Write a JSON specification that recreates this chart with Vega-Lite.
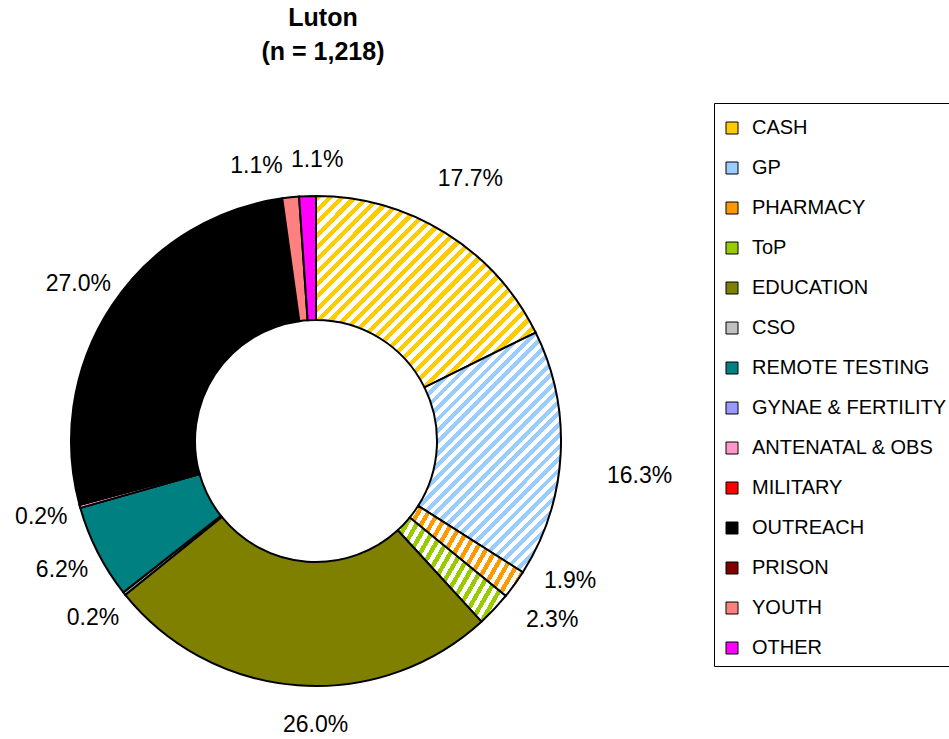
{
"$schema":"https://vega.github.io/schema/vega-lite/v6.json",
"width":632,"height":596,
"autosize":{"type":"none"},
"padding":{"left":0,"top":143,"right":317,"bottom":0},
"background":"white",
"config":{"view":{"stroke":null}},
"title":{"text":["Luton","(n = 1,218)"],"fontSize":25,"font":"Liberation Sans","fontWeight":"bold","color":"black","lineHeight":34,"offset":38,"anchor":"middle","dx":7},
"data":{"values":[
{"cat":"CASH","pct":17.7,"ord":1},
{"cat":"GP","pct":16.3,"ord":2},
{"cat":"PHARMACY","pct":1.9,"ord":3},
{"cat":"ToP","pct":2.3,"ord":4},
{"cat":"EDUCATION","pct":26.0,"ord":5},
{"cat":"CSO","pct":0.2,"ord":6},
{"cat":"REMOTE TESTING","pct":6.2,"ord":7},
{"cat":"GYNAE & FERTILITY","pct":0,"ord":8},
{"cat":"ANTENATAL & OBS","pct":0.2,"ord":9},
{"cat":"MILITARY","pct":0,"ord":10},
{"cat":"OUTREACH","pct":27.0,"ord":11},
{"cat":"PRISON","pct":0,"ord":12},
{"cat":"YOUTH","pct":1.1,"ord":13},
{"cat":"OTHER","pct":1.1,"ord":14}
]},
"transform":[
{"window":[{"op":"sum","field":"pct","as":"cum"}],"sort":[{"field":"ord"}],"frame":[null,0]},
{"calculate":"datum.cum - datum.pct/2","as":"mid"},
{"calculate":"format(datum.pct,'.1f') + '%'","as":"label"}
],
"layer":[
{"mark":{"type":"arc","outerRadius":245,"innerRadius":121,"stroke":"black","strokeWidth":2},
"encoding":{
"theta":{"field":"pct","type":"quantitative","stack":true,"scale":{"domain":[0,100]}},
"order":{"field":"ord","type":"quantitative"},
"color":{"field":"cat","type":"nominal",
"scale":{"domain":["CASH","GP","PHARMACY","ToP","EDUCATION","CSO","REMOTE TESTING","GYNAE & FERTILITY","ANTENATAL & OBS","MILITARY","OUTREACH","PRISON","YOUTH","OTHER"],
"range":["#FFCC00","#99CCFF","#FF9900","#99CC00","#808000","#C0C0C0","#008080","#9999FF","#FF99CC","#FF0000","#000000","#800000","#FF8080","#FF00FF"]},
"legend":{"orient":"none","legendX":714,"legendY":-40,"title":" ","titleFontSize":1,"titlePadding":6,"labelFont":"Liberation Sans","labelFontSize":20,"labelColor":"black","symbolType":"square","symbolSize":144,"symbolStrokeColor":"black","symbolStrokeWidth":1,"rowPadding":20,"padding":8,"strokeColor":"black","fillColor":"white","labelOffset":10,"labelLimit":400},
"condition":[
{"test":"datum.cat==='CASH'","value":{"gradient":"linear","x1":0,"y1":0,"x2":1.065,"y2":0.925,"stops":[
{"offset":0,"color":"#fc0"},
{"offset":0.015,"color":"#fc0"},{"offset":0.015,"color":"#fff"},{"offset":0.03,"color":"#fff"},{"offset":0.03,"color":"#fc0"},
{"offset":0.045,"color":"#fc0"},{"offset":0.045,"color":"#fff"},{"offset":0.06,"color":"#fff"},{"offset":0.06,"color":"#fc0"},
{"offset":0.075,"color":"#fc0"},{"offset":0.075,"color":"#fff"},{"offset":0.09,"color":"#fff"},{"offset":0.09,"color":"#fc0"},
{"offset":0.105,"color":"#fc0"},{"offset":0.105,"color":"#fff"},{"offset":0.12,"color":"#fff"},{"offset":0.12,"color":"#fc0"},
{"offset":0.135,"color":"#fc0"},{"offset":0.135,"color":"#fff"},{"offset":0.15,"color":"#fff"},{"offset":0.15,"color":"#fc0"},
{"offset":0.165,"color":"#fc0"},{"offset":0.165,"color":"#fff"},{"offset":0.18,"color":"#fff"},{"offset":0.18,"color":"#fc0"},
{"offset":0.195,"color":"#fc0"},{"offset":0.195,"color":"#fff"},{"offset":0.21,"color":"#fff"},{"offset":0.21,"color":"#fc0"},
{"offset":0.225,"color":"#fc0"},{"offset":0.225,"color":"#fff"},{"offset":0.24,"color":"#fff"},{"offset":0.24,"color":"#fc0"},
{"offset":0.255,"color":"#fc0"},{"offset":0.255,"color":"#fff"},{"offset":0.27,"color":"#fff"},{"offset":0.27,"color":"#fc0"},
{"offset":0.285,"color":"#fc0"},{"offset":0.285,"color":"#fff"},{"offset":0.3,"color":"#fff"},{"offset":0.3,"color":"#fc0"},
{"offset":0.315,"color":"#fc0"},{"offset":0.315,"color":"#fff"},{"offset":0.33,"color":"#fff"},{"offset":0.33,"color":"#fc0"},
{"offset":0.345,"color":"#fc0"},{"offset":0.345,"color":"#fff"},{"offset":0.36,"color":"#fff"},{"offset":0.36,"color":"#fc0"},
{"offset":0.375,"color":"#fc0"},{"offset":0.375,"color":"#fff"},{"offset":0.39,"color":"#fff"},{"offset":0.39,"color":"#fc0"},
{"offset":0.405,"color":"#fc0"},{"offset":0.405,"color":"#fff"},{"offset":0.42,"color":"#fff"},{"offset":0.42,"color":"#fc0"},
{"offset":0.435,"color":"#fc0"},{"offset":0.435,"color":"#fff"},{"offset":0.45,"color":"#fff"},{"offset":0.45,"color":"#fc0"},
{"offset":0.465,"color":"#fc0"},{"offset":0.465,"color":"#fff"},{"offset":0.48,"color":"#fff"},{"offset":0.48,"color":"#fc0"},
{"offset":0.495,"color":"#fc0"},{"offset":0.495,"color":"#fff"},{"offset":0.51,"color":"#fff"},{"offset":0.51,"color":"#fc0"},
{"offset":0.525,"color":"#fc0"},{"offset":0.525,"color":"#fff"},{"offset":0.54,"color":"#fff"},{"offset":0.54,"color":"#fc0"},
{"offset":0.555,"color":"#fc0"},{"offset":0.555,"color":"#fff"},{"offset":0.57,"color":"#fff"},{"offset":0.57,"color":"#fc0"},
{"offset":0.585,"color":"#fc0"},{"offset":0.585,"color":"#fff"},{"offset":0.6,"color":"#fff"},{"offset":0.6,"color":"#fc0"},
{"offset":0.615,"color":"#fc0"},{"offset":0.615,"color":"#fff"},{"offset":0.63,"color":"#fff"},{"offset":0.63,"color":"#fc0"},
{"offset":0.645,"color":"#fc0"},{"offset":0.645,"color":"#fff"},{"offset":0.66,"color":"#fff"},{"offset":0.66,"color":"#fc0"},
{"offset":0.675,"color":"#fc0"},{"offset":0.675,"color":"#fff"},{"offset":0.69,"color":"#fff"},{"offset":0.69,"color":"#fc0"},
{"offset":0.705,"color":"#fc0"},{"offset":0.705,"color":"#fff"},{"offset":0.72,"color":"#fff"},{"offset":0.72,"color":"#fc0"},
{"offset":0.735,"color":"#fc0"},{"offset":0.735,"color":"#fff"},{"offset":0.75,"color":"#fff"},{"offset":0.75,"color":"#fc0"},
{"offset":0.765,"color":"#fc0"},{"offset":0.765,"color":"#fff"},{"offset":0.78,"color":"#fff"},{"offset":0.78,"color":"#fc0"},
{"offset":0.795,"color":"#fc0"},{"offset":0.795,"color":"#fff"},{"offset":0.81,"color":"#fff"},{"offset":0.81,"color":"#fc0"},
{"offset":0.825,"color":"#fc0"},{"offset":0.825,"color":"#fff"},{"offset":0.84,"color":"#fff"},{"offset":0.84,"color":"#fc0"},
{"offset":0.855,"color":"#fc0"},{"offset":0.855,"color":"#fff"},{"offset":0.87,"color":"#fff"},{"offset":0.87,"color":"#fc0"},
{"offset":0.885,"color":"#fc0"},{"offset":0.885,"color":"#fff"},{"offset":0.9,"color":"#fff"},{"offset":0.9,"color":"#fc0"},
{"offset":0.915,"color":"#fc0"},{"offset":0.915,"color":"#fff"},{"offset":0.93,"color":"#fff"},{"offset":0.93,"color":"#fc0"},
{"offset":0.945,"color":"#fc0"},{"offset":0.945,"color":"#fff"},{"offset":0.96,"color":"#fff"},{"offset":0.96,"color":"#fc0"},
{"offset":0.975,"color":"#fc0"},{"offset":0.975,"color":"#fff"},{"offset":0.99,"color":"#fff"},{"offset":0.99,"color":"#fc0"},
{"offset":1,"color":"#fc0"}]}},
{"test":"datum.cat==='GP'","value":{"gradient":"linear","x1":0,"y1":0,"x2":0.702,"y2":1.178,"stops":[
{"offset":0,"color":"#9cf"},
{"offset":0.015,"color":"#9cf"},{"offset":0.015,"color":"#fff"},{"offset":0.03,"color":"#fff"},{"offset":0.03,"color":"#9cf"},
{"offset":0.045,"color":"#9cf"},{"offset":0.045,"color":"#fff"},{"offset":0.06,"color":"#fff"},{"offset":0.06,"color":"#9cf"},
{"offset":0.075,"color":"#9cf"},{"offset":0.075,"color":"#fff"},{"offset":0.09,"color":"#fff"},{"offset":0.09,"color":"#9cf"},
{"offset":0.105,"color":"#9cf"},{"offset":0.105,"color":"#fff"},{"offset":0.12,"color":"#fff"},{"offset":0.12,"color":"#9cf"},
{"offset":0.135,"color":"#9cf"},{"offset":0.135,"color":"#fff"},{"offset":0.15,"color":"#fff"},{"offset":0.15,"color":"#9cf"},
{"offset":0.165,"color":"#9cf"},{"offset":0.165,"color":"#fff"},{"offset":0.18,"color":"#fff"},{"offset":0.18,"color":"#9cf"},
{"offset":0.195,"color":"#9cf"},{"offset":0.195,"color":"#fff"},{"offset":0.21,"color":"#fff"},{"offset":0.21,"color":"#9cf"},
{"offset":0.225,"color":"#9cf"},{"offset":0.225,"color":"#fff"},{"offset":0.24,"color":"#fff"},{"offset":0.24,"color":"#9cf"},
{"offset":0.255,"color":"#9cf"},{"offset":0.255,"color":"#fff"},{"offset":0.27,"color":"#fff"},{"offset":0.27,"color":"#9cf"},
{"offset":0.285,"color":"#9cf"},{"offset":0.285,"color":"#fff"},{"offset":0.3,"color":"#fff"},{"offset":0.3,"color":"#9cf"},
{"offset":0.315,"color":"#9cf"},{"offset":0.315,"color":"#fff"},{"offset":0.33,"color":"#fff"},{"offset":0.33,"color":"#9cf"},
{"offset":0.345,"color":"#9cf"},{"offset":0.345,"color":"#fff"},{"offset":0.36,"color":"#fff"},{"offset":0.36,"color":"#9cf"},
{"offset":0.375,"color":"#9cf"},{"offset":0.375,"color":"#fff"},{"offset":0.39,"color":"#fff"},{"offset":0.39,"color":"#9cf"},
{"offset":0.405,"color":"#9cf"},{"offset":0.405,"color":"#fff"},{"offset":0.42,"color":"#fff"},{"offset":0.42,"color":"#9cf"},
{"offset":0.435,"color":"#9cf"},{"offset":0.435,"color":"#fff"},{"offset":0.45,"color":"#fff"},{"offset":0.45,"color":"#9cf"},
{"offset":0.465,"color":"#9cf"},{"offset":0.465,"color":"#fff"},{"offset":0.48,"color":"#fff"},{"offset":0.48,"color":"#9cf"},
{"offset":0.495,"color":"#9cf"},{"offset":0.495,"color":"#fff"},{"offset":0.51,"color":"#fff"},{"offset":0.51,"color":"#9cf"},
{"offset":0.525,"color":"#9cf"},{"offset":0.525,"color":"#fff"},{"offset":0.54,"color":"#fff"},{"offset":0.54,"color":"#9cf"},
{"offset":0.555,"color":"#9cf"},{"offset":0.555,"color":"#fff"},{"offset":0.57,"color":"#fff"},{"offset":0.57,"color":"#9cf"},
{"offset":0.585,"color":"#9cf"},{"offset":0.585,"color":"#fff"},{"offset":0.6,"color":"#fff"},{"offset":0.6,"color":"#9cf"},
{"offset":0.615,"color":"#9cf"},{"offset":0.615,"color":"#fff"},{"offset":0.63,"color":"#fff"},{"offset":0.63,"color":"#9cf"},
{"offset":0.645,"color":"#9cf"},{"offset":0.645,"color":"#fff"},{"offset":0.66,"color":"#fff"},{"offset":0.66,"color":"#9cf"},
{"offset":0.675,"color":"#9cf"},{"offset":0.675,"color":"#fff"},{"offset":0.69,"color":"#fff"},{"offset":0.69,"color":"#9cf"},
{"offset":0.705,"color":"#9cf"},{"offset":0.705,"color":"#fff"},{"offset":0.72,"color":"#fff"},{"offset":0.72,"color":"#9cf"},
{"offset":0.735,"color":"#9cf"},{"offset":0.735,"color":"#fff"},{"offset":0.75,"color":"#fff"},{"offset":0.75,"color":"#9cf"},
{"offset":0.765,"color":"#9cf"},{"offset":0.765,"color":"#fff"},{"offset":0.78,"color":"#fff"},{"offset":0.78,"color":"#9cf"},
{"offset":0.795,"color":"#9cf"},{"offset":0.795,"color":"#fff"},{"offset":0.81,"color":"#fff"},{"offset":0.81,"color":"#9cf"},
{"offset":0.825,"color":"#9cf"},{"offset":0.825,"color":"#fff"},{"offset":0.84,"color":"#fff"},{"offset":0.84,"color":"#9cf"},
{"offset":0.855,"color":"#9cf"},{"offset":0.855,"color":"#fff"},{"offset":0.87,"color":"#fff"},{"offset":0.87,"color":"#9cf"},
{"offset":0.885,"color":"#9cf"},{"offset":0.885,"color":"#fff"},{"offset":0.9,"color":"#fff"},{"offset":0.9,"color":"#9cf"},
{"offset":0.915,"color":"#9cf"},{"offset":0.915,"color":"#fff"},{"offset":0.93,"color":"#fff"},{"offset":0.93,"color":"#9cf"},
{"offset":0.945,"color":"#9cf"},{"offset":0.945,"color":"#fff"},{"offset":0.96,"color":"#fff"},{"offset":0.96,"color":"#9cf"},
{"offset":0.975,"color":"#9cf"},{"offset":0.975,"color":"#fff"},{"offset":0.99,"color":"#fff"},{"offset":0.99,"color":"#9cf"},
{"offset":1,"color":"#9cf"}]}},
{"test":"datum.cat==='PHARMACY'","value":{"gradient":"linear","x1":0,"y1":0,"x2":1.205,"y2":0.554,"stops":[
{"offset":0,"color":"#f90"},
{"offset":0.03,"color":"#f90"},{"offset":0.03,"color":"#fff"},{"offset":0.06,"color":"#fff"},{"offset":0.06,"color":"#f90"},
{"offset":0.09,"color":"#f90"},{"offset":0.09,"color":"#fff"},{"offset":0.12,"color":"#fff"},{"offset":0.12,"color":"#f90"},
{"offset":0.15,"color":"#f90"},{"offset":0.15,"color":"#fff"},{"offset":0.18,"color":"#fff"},{"offset":0.18,"color":"#f90"},
{"offset":0.21,"color":"#f90"},{"offset":0.21,"color":"#fff"},{"offset":0.24,"color":"#fff"},{"offset":0.24,"color":"#f90"},
{"offset":0.27,"color":"#f90"},{"offset":0.27,"color":"#fff"},{"offset":0.3,"color":"#fff"},{"offset":0.3,"color":"#f90"},
{"offset":0.33,"color":"#f90"},{"offset":0.33,"color":"#fff"},{"offset":0.36,"color":"#fff"},{"offset":0.36,"color":"#f90"},
{"offset":0.39,"color":"#f90"},{"offset":0.39,"color":"#fff"},{"offset":0.42,"color":"#fff"},{"offset":0.42,"color":"#f90"},
{"offset":0.45,"color":"#f90"},{"offset":0.45,"color":"#fff"},{"offset":0.48,"color":"#fff"},{"offset":0.48,"color":"#f90"},
{"offset":0.51,"color":"#f90"},{"offset":0.51,"color":"#fff"},{"offset":0.54,"color":"#fff"},{"offset":0.54,"color":"#f90"},
{"offset":0.57,"color":"#f90"},{"offset":0.57,"color":"#fff"},{"offset":0.6,"color":"#fff"},{"offset":0.6,"color":"#f90"},
{"offset":0.63,"color":"#f90"},{"offset":0.63,"color":"#fff"},{"offset":0.66,"color":"#fff"},{"offset":0.66,"color":"#f90"},
{"offset":0.69,"color":"#f90"},{"offset":0.69,"color":"#fff"},{"offset":0.72,"color":"#fff"},{"offset":0.72,"color":"#f90"},
{"offset":0.75,"color":"#f90"},{"offset":0.75,"color":"#fff"},{"offset":0.78,"color":"#fff"},{"offset":0.78,"color":"#f90"},
{"offset":0.81,"color":"#f90"},{"offset":0.81,"color":"#fff"},{"offset":0.84,"color":"#fff"},{"offset":0.84,"color":"#f90"},
{"offset":0.87,"color":"#f90"},{"offset":0.87,"color":"#fff"},{"offset":0.9,"color":"#fff"},{"offset":0.9,"color":"#f90"},
{"offset":0.93,"color":"#f90"},{"offset":0.93,"color":"#fff"},{"offset":0.96,"color":"#fff"},{"offset":0.96,"color":"#f90"},
{"offset":0.99,"color":"#f90"},{"offset":0.99,"color":"#fff"},{"offset":1,"color":"#fff"}]}},
{"test":"datum.cat==='ToP'","value":{"gradient":"linear","x1":0,"y1":0,"x2":1.189,"y2":0.661,"stops":[
{"offset":0,"color":"#9c0"},
{"offset":0.03,"color":"#9c0"},{"offset":0.03,"color":"#fff"},{"offset":0.06,"color":"#fff"},{"offset":0.06,"color":"#9c0"},
{"offset":0.09,"color":"#9c0"},{"offset":0.09,"color":"#fff"},{"offset":0.12,"color":"#fff"},{"offset":0.12,"color":"#9c0"},
{"offset":0.15,"color":"#9c0"},{"offset":0.15,"color":"#fff"},{"offset":0.18,"color":"#fff"},{"offset":0.18,"color":"#9c0"},
{"offset":0.21,"color":"#9c0"},{"offset":0.21,"color":"#fff"},{"offset":0.24,"color":"#fff"},{"offset":0.24,"color":"#9c0"},
{"offset":0.27,"color":"#9c0"},{"offset":0.27,"color":"#fff"},{"offset":0.3,"color":"#fff"},{"offset":0.3,"color":"#9c0"},
{"offset":0.33,"color":"#9c0"},{"offset":0.33,"color":"#fff"},{"offset":0.36,"color":"#fff"},{"offset":0.36,"color":"#9c0"},
{"offset":0.39,"color":"#9c0"},{"offset":0.39,"color":"#fff"},{"offset":0.42,"color":"#fff"},{"offset":0.42,"color":"#9c0"},
{"offset":0.45,"color":"#9c0"},{"offset":0.45,"color":"#fff"},{"offset":0.48,"color":"#fff"},{"offset":0.48,"color":"#9c0"},
{"offset":0.51,"color":"#9c0"},{"offset":0.51,"color":"#fff"},{"offset":0.54,"color":"#fff"},{"offset":0.54,"color":"#9c0"},
{"offset":0.57,"color":"#9c0"},{"offset":0.57,"color":"#fff"},{"offset":0.6,"color":"#fff"},{"offset":0.6,"color":"#9c0"},
{"offset":0.63,"color":"#9c0"},{"offset":0.63,"color":"#fff"},{"offset":0.66,"color":"#fff"},{"offset":0.66,"color":"#9c0"},
{"offset":0.69,"color":"#9c0"},{"offset":0.69,"color":"#fff"},{"offset":0.72,"color":"#fff"},{"offset":0.72,"color":"#9c0"},
{"offset":0.75,"color":"#9c0"},{"offset":0.75,"color":"#fff"},{"offset":0.78,"color":"#fff"},{"offset":0.78,"color":"#9c0"},
{"offset":0.81,"color":"#9c0"},{"offset":0.81,"color":"#fff"},{"offset":0.84,"color":"#fff"},{"offset":0.84,"color":"#9c0"},
{"offset":0.87,"color":"#9c0"},{"offset":0.87,"color":"#fff"},{"offset":0.9,"color":"#fff"},{"offset":0.9,"color":"#9c0"},
{"offset":0.93,"color":"#9c0"},{"offset":0.93,"color":"#fff"},{"offset":0.96,"color":"#fff"},{"offset":0.96,"color":"#9c0"},
{"offset":0.99,"color":"#9c0"},{"offset":0.99,"color":"#fff"},{"offset":1,"color":"#fff"}]}}
]}
}},
{"transform":[{"filter":"indexof(['CSO','REMOTE TESTING','ANTENATAL & OBS','OUTREACH'], datum.cat) >= 0"}],
"mark":{"type":"text","radius":285,"fontSize":23,"font":"Liberation Sans","color":"black"},
"encoding":{"theta":{"field":"mid","type":"quantitative","stack":null,"scale":{"domain":[0,100]}},"text":{"field":"label"}}},
{"transform":[{"filter":"datum.cat==='CASH'"}],
"mark":{"type":"text","radius":285,"fontSize":23,"font":"Liberation Sans","color":"black","dx":4,"dy":-20},
"encoding":{"theta":{"field":"mid","type":"quantitative","stack":null,"scale":{"domain":[0,100]}},"text":{"field":"label"}}},
{"transform":[{"filter":"datum.cat==='GP'"}],
"mark":{"type":"text","radius":285,"fontSize":23,"font":"Liberation Sans","color":"black","dx":39,"dy":20},
"encoding":{"theta":{"field":"mid","type":"quantitative","stack":null,"scale":{"domain":[0,100]}},"text":{"field":"label"}}},
{"transform":[{"filter":"datum.cat==='PHARMACY'"}],
"mark":{"type":"text","radius":285,"fontSize":23,"font":"Liberation Sans","color":"black","dx":23,"dy":-27},
"encoding":{"theta":{"field":"mid","type":"quantitative","stack":null,"scale":{"domain":[0,100]}},"text":{"field":"label"}}},
{"transform":[{"filter":"datum.cat==='ToP'"}],
"mark":{"type":"text","radius":285,"fontSize":23,"font":"Liberation Sans","color":"black","dx":29,"dy":-17},
"encoding":{"theta":{"field":"mid","type":"quantitative","stack":null,"scale":{"domain":[0,100]}},"text":{"field":"label"}}},
{"transform":[{"filter":"datum.cat==='EDUCATION'"}],
"mark":{"type":"text","radius":285,"fontSize":23,"font":"Liberation Sans","color":"black","dx":21,"dy":0},
"encoding":{"theta":{"field":"mid","type":"quantitative","stack":null,"scale":{"domain":[0,100]}},"text":{"field":"label"}}},
{"transform":[{"filter":"datum.cat==='YOUTH'"}],
"mark":{"type":"text","radius":285,"fontSize":23,"font":"Liberation Sans","color":"black","dx":-30,"dy":8},
"encoding":{"theta":{"field":"mid","type":"quantitative","stack":null,"scale":{"domain":[0,100]}},"text":{"field":"label"}}},
{"transform":[{"filter":"datum.cat==='OTHER'"}],
"mark":{"type":"text","radius":285,"fontSize":23,"font":"Liberation Sans","color":"black","dx":11,"dy":4},
"encoding":{"theta":{"field":"mid","type":"quantitative","stack":null,"scale":{"domain":[0,100]}},"text":{"field":"label"}}}
]
}
